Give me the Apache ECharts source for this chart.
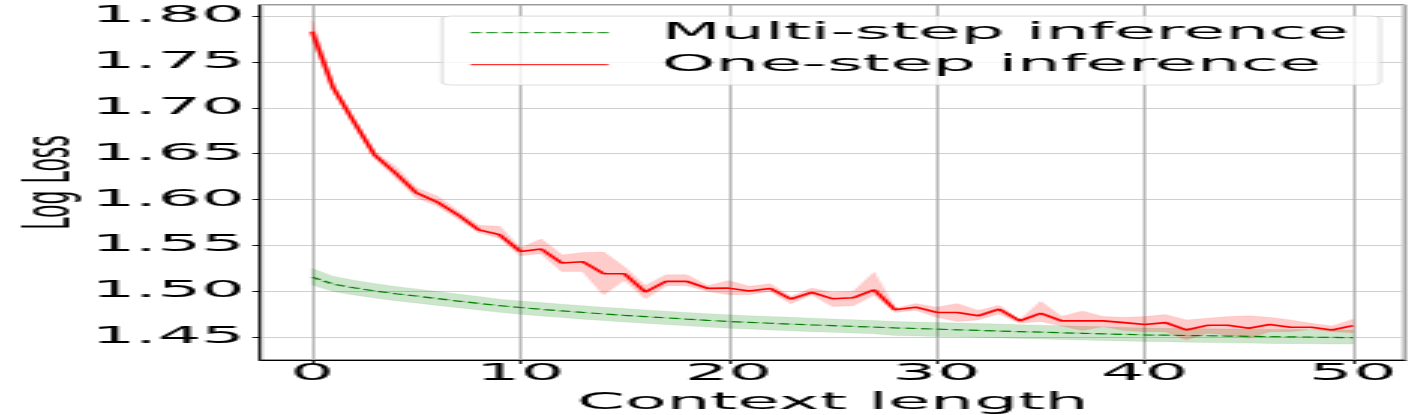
<!DOCTYPE html>
<html>
<head>
<meta charset="utf-8">
<script src="https://cdn.jsdelivr.net/npm/echarts@6/dist/echarts.min.js"></script>
<style>
html,body{margin:0;padding:0;background:#fff;overflow:hidden;width:1421px;height:415px;}
#wrap{width:1421px;height:415px;overflow:hidden;}
#chart{width:473.667px;height:415px;transform:scaleX(3);transform-origin:0 0;}
</style>
</head>
<body>
<div id="wrap"><div id="chart"></div></div>
<script>
// ---- data ----
const contextLength = [0,1,2,3,4,5,6,7,8,9,10,11,12,13,14,15,16,17,18,19,20,21,22,23,24,25,26,27,28,29,30,31,32,33,34,35,36,37,38,39,40,41,42,43,44,45,46,47,48,49,50];

const multiStepMean = [1.5155,1.5080,1.5040,1.5005,1.4975,1.4950,1.4922,1.4895,1.4870,1.4845,1.4825,1.4805,1.4788,1.4771,1.4755,1.4740,1.4726,1.4712,1.4698,1.4685,1.4673,1.4663,1.4653,1.4644,1.4635,1.4627,1.4619,1.4611,1.4603,1.4596,1.4589,1.4582,1.4575,1.4568,1.4562,1.4556,1.4550,1.4544,1.4538,1.4532,1.4526,1.4523,1.4520,1.4517,1.4514,1.4511,1.4508,1.4505,1.4502,1.4499,1.4497];
const multiStepLower = [1.5070,1.5000,1.4962,1.4928,1.4899,1.4875,1.4848,1.4822,1.4797,1.4772,1.4752,1.4732,1.4715,1.4698,1.4682,1.4667,1.4653,1.4639,1.4625,1.4612,1.4600,1.4590,1.4580,1.4571,1.4562,1.4554,1.4546,1.4538,1.4520,1.4515,1.4510,1.4505,1.4500,1.4494,1.4488,1.4482,1.4476,1.4470,1.4465,1.4460,1.4455,1.4451,1.4447,1.4443,1.4440,1.4437,1.4434,1.4431,1.4429,1.4427,1.4426];
const multiStepUpper = [1.5250,1.5165,1.5122,1.5085,1.5053,1.5027,1.5000,1.4972,1.4945,1.4916,1.4897,1.4878,1.4861,1.4844,1.4828,1.4813,1.4799,1.4785,1.4771,1.4758,1.4745,1.4736,1.4727,1.4718,1.4709,1.4700,1.4692,1.4684,1.4672,1.4667,1.4662,1.4656,1.4650,1.4644,1.4638,1.4632,1.4626,1.4620,1.4614,1.4608,1.4602,1.4599,1.4596,1.4593,1.4590,1.4588,1.4586,1.4584,1.4582,1.4581,1.4580];

const oneStepMean = [1.7830,1.7223,1.6850,1.6486,1.6290,1.6075,1.5975,1.5835,1.5670,1.5618,1.5436,1.5462,1.5309,1.5324,1.5193,1.5193,1.4993,1.5109,1.5109,1.5033,1.5036,1.5004,1.5033,1.4916,1.4989,1.4920,1.4931,1.5018,1.4800,1.4828,1.4771,1.4771,1.4734,1.4807,1.4679,1.4763,1.4679,1.4679,1.4679,1.4660,1.4639,1.4660,1.4580,1.4631,1.4631,1.4599,1.4639,1.4610,1.4610,1.4580,1.4628];
const oneStepLower = [1.7760,1.7180,1.6810,1.6450,1.6240,1.6020,1.5930,1.5790,1.5640,1.5580,1.5389,1.5411,1.5218,1.5218,1.4964,1.5127,1.4920,1.5062,1.5062,1.5000,1.4964,1.4964,1.5000,1.4865,1.4964,1.4836,1.4844,1.4964,1.4771,1.4796,1.4718,1.4672,1.4690,1.4755,1.4653,1.4672,1.4624,1.4573,1.4617,1.4573,1.4562,1.4562,1.4471,1.4544,1.4526,1.4489,1.4562,1.4562,1.4588,1.4562,1.4551];
const oneStepUpper = [1.7950,1.7260,1.6890,1.6520,1.6360,1.6130,1.6040,1.5880,1.5720,1.5709,1.5473,1.5571,1.5396,1.5425,1.5429,1.5265,1.5062,1.5182,1.5182,1.5062,1.5120,1.5055,1.5084,1.4945,1.5036,1.4989,1.5000,1.5207,1.4818,1.4868,1.4828,1.4868,1.4792,1.4850,1.4690,1.4890,1.4726,1.4788,1.4726,1.4719,1.4726,1.4748,1.4690,1.4708,1.4726,1.4734,1.4719,1.4690,1.4653,1.4624,1.4697];

const seriesNames = ['Multi-step inference', 'One-step inference'];
const xAxisTitle = 'Context length';
const yAxisTitle = 'Log Loss';

// ---- build ----
const pairs = arr => contextLength.map((x, i) => [x, arr[i]]);
const bandData = (lo, hi) => contextLength.map((x, i) => [x, lo[i], hi[i]]);

// band polygon drawn through the chart's own coordinate system
function bandSeries(name, lo, hi, fill, stroke) {
  const rows = bandData(lo, hi);
  return {
    name: name, type: 'custom', coordinateSystem: 'cartesian2d',
    data: rows, encode: {x: 0, y: [1, 2]}, silent: true, clip: true,
    renderItem: function (params, api) {
      if (params.dataIndex !== 0) return null;
      const pts = [];
      for (let i = 0; i < rows.length; i++) pts.push(api.coord([rows[i][0], rows[i][2]]));
      for (let i = rows.length - 1; i >= 0; i--) pts.push(api.coord([rows[i][0], rows[i][1]]));
      return {
        type: 'polygon', shape: {points: pts},
        style: {fill: fill, stroke: stroke, lineWidth: 0.6}, silent: true
      };
    }
  };
}

const FONT = 'DejaVu Sans';
const chart = echarts.init(document.getElementById('chart'), null, {renderer: 'canvas'});

const option = {
  backgroundColor: '#ffffff',
  animation: false,
  grid: {
    left: 86.7, right: 5.7, top: 5, bottom: 55,
    containLabel: false, outerBoundsMode: 'none',
    show: true, borderColor: '#000', borderWidth: 0.8, backgroundColor: 'transparent'
  },
  legend: {
    data: seriesNames,
    orient: 'vertical',
    left: 147.3, top: 16,
    padding: [3.7, 10.3, 7.3, 9],
    itemWidth: 46, itemHeight: 14, itemGap: 6,
    backgroundColor: 'rgba(255,255,255,0.8)',
    borderColor: 'rgba(204,204,204,0.8)', borderWidth: 0.8, borderRadius: 3,
    textStyle: {fontFamily: FONT, fontSize: 23, color: '#000', lineHeight: 26, padding: [0, 0, 0, 12.7]},
    itemStyle: {opacity: 0},
    lineStyle: {width: 1}
  },
  xAxis: {
    type: 'value', min: -2.5, max: 52.5, splitNumber: 5,
    name: xAxisTitle, nameLocation: 'middle', nameGap: 32, nameMoveOverlap: false,
    nameTextStyle: {fontFamily: FONT, fontSize: 23, color: '#000'},
    axisLine: {show: true, onZero: false, lineStyle: {color: '#000', width: 1}},
    axisTick: {show: true, length: 4, lineStyle: {color: '#000', width: 0.8}},
    axisLabel: {fontFamily: FONT, fontSize: 23, color: '#000', margin: 3, showMinLabel: false, showMaxLabel: false},
    splitLine: {show: true, lineStyle: {color: '#b0b0b0', width: 0.9}}
  },
  yAxis: {
    type: 'value', min: 1.4253, max: 1.812, splitNumber: 7,
    name: yAxisTitle, nameLocation: 'middle', nameGap: 58, nameMoveOverlap: false,
    nameTextStyle: {fontFamily: FONT, fontSize: 22, color: '#000'},
    axisLine: {show: true, onZero: false, lineStyle: {color: '#000', width: 0.8}},
    axisTick: {show: true, length: 2.5, lineStyle: {color: '#000', width: 1}},
    axisLabel: {fontFamily: FONT, fontSize: 23, color: '#000', margin: 5, showMinLabel: false, showMaxLabel: false,
      formatter: v => v.toFixed(2)},
    splitLine: {show: true, lineStyle: {color: '#cfcfcf', width: 1}}
  },
  series: [
    bandSeries('msBand', multiStepLower, multiStepUpper, 'rgba(0,128,0,0.2)', 'rgba(0,128,0,0.12)'),
    bandSeries('osBand', oneStepLower, oneStepUpper, 'rgba(255,0,0,0.2)', 'rgba(255,0,0,0.12)'),
    {name: seriesNames[0], type: 'line', data: pairs(multiStepMean), showSymbol: false, symbol: 'none',
      itemStyle: {color: '#008000'},
      lineStyle: {color: '#008000', width: 1.2, type: [3.7, 1.6]}},
    {name: seriesNames[1], type: 'line', data: pairs(oneStepMean), showSymbol: false, symbol: 'none',
      itemStyle: {color: '#ff0000'},
      lineStyle: {color: '#ff0000', width: 1.6}}
  ]
};
chart.setOption(option);
</script>
</body>
</html>
